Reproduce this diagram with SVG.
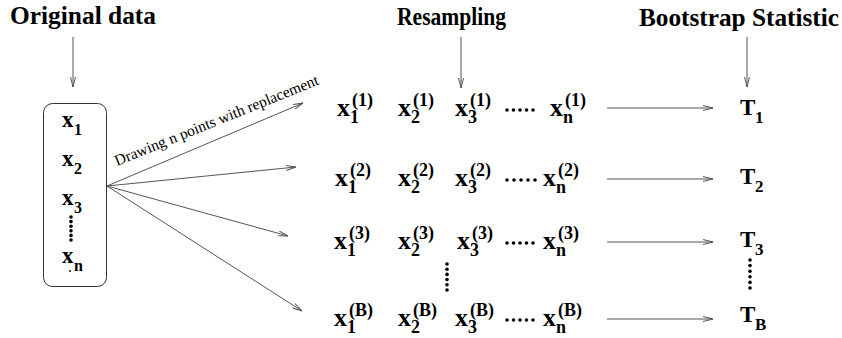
<svg xmlns="http://www.w3.org/2000/svg" width="842" height="338" viewBox="0 0 842 338">
<defs>
<style>
.tt{font-family:"Liberation Serif","Times New Roman",serif;font-weight:bold;fill:#000}
.h{font-size:25.5px}
.bx{font-size:23px}
.bs{font-size:16px}
.rx{font-size:26px}
.rs{font-size:18px}
.tx{font-size:23px}
.ts{font-size:17px}
.lbl{font-family:"Liberation Serif","Times New Roman",serif;font-size:15.5px;fill:#000}
.ln{stroke:#555;stroke-width:1;fill:none}
.dot{fill:#000}
</style>
<marker id="ah" viewBox="0 0 10 6" refX="10" refY="3" markerWidth="10" markerHeight="6" orient="auto" markerUnits="userSpaceOnUse">
<path d="M0,0.5 L10,3 L0,5.5" fill="none" stroke="#555" stroke-width="1"/>
</marker>
</defs>
<rect width="842" height="338" fill="#fff"/>

<g id="title-original">
<text class="tt h" x="10" y="24" textLength="146" lengthAdjust="spacingAndGlyphs">Original data</text>
</g>
<g id="title-resampling">
<text class="tt h" x="397" y="25" textLength="109" lengthAdjust="spacingAndGlyphs">Resampling</text>
</g>
<g id="title-bootstrap">
<text class="tt h" x="639" y="26" textLength="200" lengthAdjust="spacingAndGlyphs">Bootstrap Statistic</text>
</g>

<g id="original-data">
<rect x="43.5" y="103.5" width="63" height="183" rx="9" fill="none" stroke="#333" stroke-width="1"/>
<text class="tt bx" x="62" y="127">x<tspan class="bs" x="74" y="135">1</tspan></text>
<text class="tt bx" x="62" y="166">x<tspan class="bs" x="74" y="174">2</tspan></text>
<text class="tt bx" x="62" y="205">x<tspan class="bs" x="74" y="213">3</tspan></text>
<text class="tt bx" x="62" y="263">x<tspan class="bs" x="74" y="271">n</tspan></text>
<g class="dot">
<circle cx="71" cy="217" r="1.8"/><circle cx="71" cy="221.6" r="1.8"/><circle cx="71" cy="226.2" r="1.8"/><circle cx="71" cy="230.8" r="1.8"/><circle cx="71" cy="235.4" r="1.8"/><circle cx="71" cy="240" r="1.8"/>
<circle cx="70" cy="271" r="0.9"/>
</g>
</g>

<g id="sample-1">
<text class="tt rx" x="337" y="116">x<tspan class="rs" x="350" y="123">1</tspan><tspan class="rs" x="352" y="106">(1)</tspan></text>
<text class="tt rx" x="398" y="116">x<tspan class="rs" x="411" y="123">2</tspan><tspan class="rs" x="413" y="106">(1)</tspan></text>
<text class="tt rx" x="455" y="116">x<tspan class="rs" x="468" y="123">3</tspan><tspan class="rs" x="470" y="106">(1)</tspan></text>
<g class="dot"><circle cx="507" cy="110" r="1.8"/><circle cx="513.5" cy="110" r="1.8"/><circle cx="520" cy="110" r="1.8"/><circle cx="526.5" cy="110" r="1.8"/><circle cx="533" cy="110" r="1.8"/></g>
<text class="tt rx" x="550" y="116">x<tspan class="rs" x="563" y="123">n</tspan><tspan class="rs" x="565" y="106">(1)</tspan></text>
</g>

<g id="sample-2">
<text class="tt rx" x="335" y="186">x<tspan class="rs" x="348" y="193">1</tspan><tspan class="rs" x="350" y="176">(2)</tspan></text>
<text class="tt rx" x="398" y="186">x<tspan class="rs" x="411" y="193">2</tspan><tspan class="rs" x="413" y="176">(2)</tspan></text>
<text class="tt rx" x="455" y="186">x<tspan class="rs" x="468" y="193">3</tspan><tspan class="rs" x="470" y="176">(2)</tspan></text>
<g class="dot"><circle cx="507" cy="180" r="1.8"/><circle cx="514" cy="180" r="1.8"/><circle cx="521" cy="180" r="1.8"/><circle cx="528" cy="180" r="1.8"/><circle cx="535" cy="180" r="1.8"/></g>
<text class="tt rx" x="543" y="186">x<tspan class="rs" x="556" y="193">n</tspan><tspan class="rs" x="558" y="176">(2)</tspan></text>
</g>

<g id="sample-3">
<text class="tt rx" x="334" y="249">x<tspan class="rs" x="347" y="256">1</tspan><tspan class="rs" x="349" y="239">(3)</tspan></text>
<text class="tt rx" x="398" y="249">x<tspan class="rs" x="411" y="256">2</tspan><tspan class="rs" x="413" y="239">(3)</tspan></text>
<text class="tt rx" x="457" y="249">x<tspan class="rs" x="470" y="256">3</tspan><tspan class="rs" x="472" y="239">(3)</tspan></text>
<g class="dot"><circle cx="507" cy="243" r="1.8"/><circle cx="513.5" cy="243" r="1.8"/><circle cx="520" cy="243" r="1.8"/><circle cx="526.5" cy="243" r="1.8"/><circle cx="533" cy="243" r="1.8"/></g>
<text class="tt rx" x="543" y="249">x<tspan class="rs" x="556" y="256">n</tspan><tspan class="rs" x="558" y="239">(3)</tspan></text>
</g>

<g id="sample-dots" class="dot">
<circle cx="447" cy="264" r="1.8"/><circle cx="447" cy="269.2" r="1.8"/><circle cx="447" cy="274.4" r="1.8"/><circle cx="447" cy="279.6" r="1.8"/><circle cx="447" cy="284.8" r="1.8"/><circle cx="447" cy="290" r="1.8"/>
</g>

<g id="sample-B">
<text class="tt rx" x="334" y="326">x<tspan class="rs" x="347" y="333">1</tspan><tspan class="rs" x="349" y="316">(B)</tspan></text>
<text class="tt rx" x="398" y="326">x<tspan class="rs" x="411" y="333">2</tspan><tspan class="rs" x="413" y="316">(B)</tspan></text>
<text class="tt rx" x="455" y="326">x<tspan class="rs" x="468" y="333">3</tspan><tspan class="rs" x="470" y="316">(B)</tspan></text>
<g class="dot"><circle cx="507" cy="320" r="1.8"/><circle cx="513.5" cy="320" r="1.8"/><circle cx="520" cy="320" r="1.8"/><circle cx="526.5" cy="320" r="1.8"/><circle cx="533" cy="320" r="1.8"/></g>
<text class="tt rx" x="543" y="326">x<tspan class="rs" x="556" y="333">n</tspan><tspan class="rs" x="558" y="316">(B)</tspan></text>
</g>

<g id="stat-1"><text class="tt tx" x="740" y="115">T<tspan class="ts" x="755" y="123">1</tspan></text></g>
<g id="stat-2"><text class="tt tx" x="740" y="184">T<tspan class="ts" x="755" y="192">2</tspan></text></g>
<g id="stat-3"><text class="tt tx" x="740" y="247">T<tspan class="ts" x="755" y="255">3</tspan></text></g>
<g id="stat-dots" class="dot">
<circle cx="750" cy="260" r="1.8"/><circle cx="750" cy="265.6" r="1.8"/><circle cx="750" cy="271.2" r="1.8"/><circle cx="750" cy="276.8" r="1.8"/><circle cx="750" cy="282.4" r="1.8"/><circle cx="750" cy="288" r="1.8"/>
</g>
<g id="stat-B"><text class="tt tx" x="740" y="322">T<tspan class="ts" x="755" y="330">B</tspan></text></g>

<g id="connectors" class="ln" marker-end="url(#ah)">
<line x1="73" y1="37" x2="73" y2="87"/>
<line x1="461" y1="37" x2="461" y2="88"/>
<line x1="747" y1="37" x2="747" y2="87"/>
<line x1="107" y1="186" x2="303" y2="103"/>
<line x1="107" y1="186" x2="296" y2="167"/>
<line x1="107" y1="186" x2="288" y2="236"/>
<line x1="107" y1="186" x2="302" y2="311"/>
<line x1="607" y1="108" x2="713" y2="108"/>
<line x1="607" y1="179" x2="713" y2="179"/>
<line x1="607" y1="242" x2="713" y2="242"/>
<line x1="607" y1="319" x2="713" y2="319"/>
</g>
<g id="edge-label">
<text class="lbl" transform="translate(117,166) rotate(-22)">Drawing n points with replacement</text>
</g>
</svg>
